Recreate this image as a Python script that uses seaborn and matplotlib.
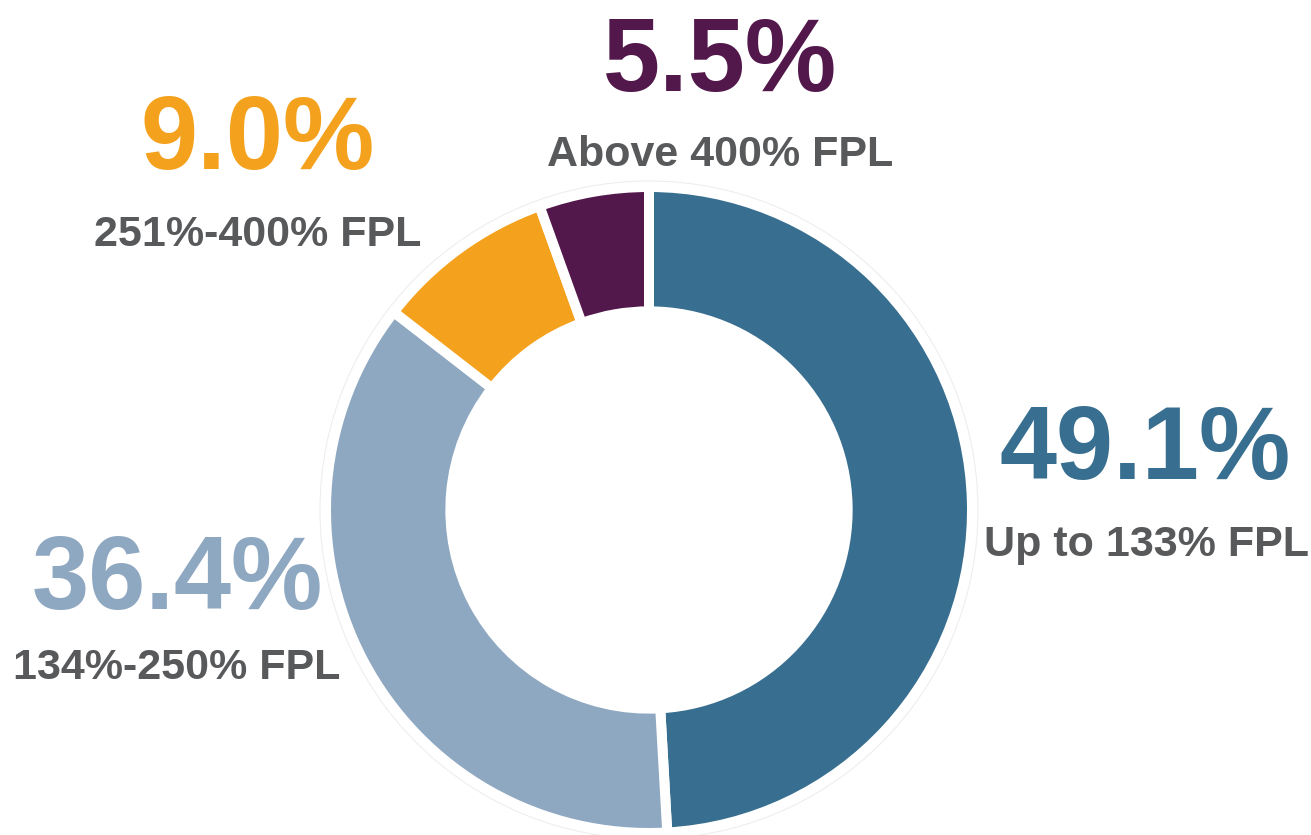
import matplotlib
matplotlib.use("Agg")
import matplotlib.pyplot as plt
import seaborn as sns
from matplotlib.patches import Circle

# Share of population by income band (% of Federal Poverty Level)
categories = ["Up to 133% FPL", "134%-250% FPL", "251%-400% FPL", "Above 400% FPL"]
shares = [49.1, 36.4, 9.0, 5.5]
pct_labels = ["49.1%", "36.4%", "9.0%", "5.5%"]
colors = ["#386E8F", "#8FA8C1", "#F4A21E", "#52174B"]

sns.set_theme(style="white")
plt.rcParams["font.family"] = ["Liberation Sans Narrow", "Liberation Sans", "DejaVu Sans"]

W, H = 1311, 835
fig = plt.figure(figsize=(W / 100, H / 100), dpi=100)
ax = fig.add_axes([0, 0, 1, 1])

cx, cy = 649, H - 510
r_out = 323
ring = 0.385

ax.pie(shares, colors=colors, startangle=90, counterclock=False,
       radius=r_out, center=(cx, cy), frame=True,
       wedgeprops=dict(width=r_out * ring, edgecolor="white", linewidth=7.2))
ax.set_xlim(0, W)
ax.set_ylim(0, H)
ax.axis("off")

# faint halo around the ring
ax.add_patch(Circle((cx, cy), 329, fill=False, edgecolor="#eeeeee", linewidth=0.8))

gray = "#58595B"
# (pct position, label position) in pixel coordinates from top-left
spots = [
    ((1145, 452), (1147, 545)),
    ((177, 582), (177, 668)),
    ((258, 142), (258, 235)),
    ((720, 64), (720, 155)),
]
for pct, cat, col, ((px, py), (lx, ly)) in zip(pct_labels, categories, colors, spots):
    ax.text(px, H - py, pct, color=col, fontsize=74, fontweight="bold",
            ha="center", va="center")
    ax.text(lx, H - ly, cat, color=gray, fontsize=31, fontweight="bold",
            ha="center", va="center")

fig.savefig("out.png", dpi=100, facecolor="white")
